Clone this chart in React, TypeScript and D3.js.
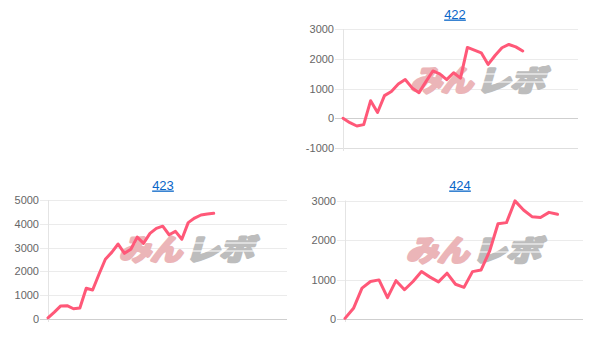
import React from 'react';
import * as d3 from 'd3';

// ---- data ----
const titles = ['422', '423', '424'];

const values422 = [0, -150, -260, -215, 590, 195, 760, 900, 1150, 1300, 1020, 860, 1230, 1590, 1490, 1300, 1530, 1350, 2380, 2290, 2200, 1810, 2110, 2370, 2480, 2400, 2260];
const values423 = [50, 290, 550, 560, 430, 460, 1290, 1220, 1880, 2510, 2800, 3150, 2760, 2930, 3440, 3180, 3600, 3810, 3900, 3540, 3680, 3350, 4050, 4240, 4370, 4410, 4440];
const values424 = [15, 270, 780, 950, 990, 540, 970, 740, 950, 1200, 1060, 940, 1160, 880, 800, 1200, 1240, 1710, 2410, 2440, 2990, 2760, 2590, 2570, 2700, 2650];

const ticks422 = [-1000, 0, 1000, 2000, 3000];
const ticks423 = [0, 1000, 2000, 3000, 4000, 5000];
const ticks424 = [0, 1000, 2000, 3000];

const watermarkParts = ['みん', 'レボ'];

const FONT = '"Liberation Sans", Arial, sans-serif';
const LINE_COLOR = '#ff5878';

type ChartProps = {
  title: string;
  values: number[];
  ticks: number[];
  xMax: number;
  left: number;
  right: number;
  top: number;
  bottom: number;
  titleX: number;
  titleY: number;
  wmX: number;
  wmY: number;
};

function Watermark({ x, y }: { x: number; y: number }) {
  const wmFont = '"Noto Sans CJK JP", sans-serif';
  return (
    <g transform={`translate(${x},${y}) skewX(-16)`} fontFamily={wmFont} fontWeight={700} fontSize={29}>
      <g transform="translate(6,0) scale(1.08,1)">
        <text x={0} y={0} fill="#ebb5b8" stroke="#ebb5b8" strokeWidth={3.2} strokeLinejoin="round">
          {watermarkParts[0]}
        </text>
      </g>
      <g transform="translate(72,0) scale(1.18,1)">
        <text x={0} y={0} fill="#bdbdbd" stroke="#bdbdbd" strokeWidth={3.2} strokeLinejoin="round">
          {watermarkParts[1]}
        </text>
      </g>
      <line x1={76} x2={148} y1={-17} y2={-17} stroke="#fff" strokeWidth={1.2} />
      <line x1={76} x2={148} y1={-9} y2={-9} stroke="#fff" strokeWidth={1.2} />
    </g>
  );
}

function LineChart(p: ChartProps) {
  const x = d3.scaleLinear().domain([0, p.xMax]).range([p.left, p.right]);
  const y = d3
    .scaleLinear()
    .domain([p.ticks[0], p.ticks[p.ticks.length - 1]])
    .range([p.bottom, p.top]);
  const line = d3
    .line<number>()
    .x((_, i) => x(i))
    .y((d) => y(d));
  const path = line(p.values) || '';

  return (
    <g>
      <text
        x={p.titleX}
        y={p.titleY}
        textAnchor="middle"
        fontFamily={FONT}
        fontSize={13}
        fill="#0a66c8"
        textDecoration="underline"
      >
        {p.title}
      </text>
      {p.ticks.map((t) => {
        const yy = Math.round(y(t)) + 0.5;
        const isZero = t === 0;
        const isBottom = t === p.ticks[0];
        return (
          <g key={t}>
            <line
              x1={p.left - 8}
              x2={p.right}
              y1={yy}
              y2={yy}
              stroke={isZero ? '#cfcfcf' : isBottom ? '#dedede' : '#ebebeb'}
              strokeWidth={1}
            />
            <text
              x={p.left - 9}
              y={yy}
              dy="0.35em"
              textAnchor="end"
              fontFamily={FONT}
              fontSize={11}
              fill="#666"
            >
              {t}
            </text>
          </g>
        );
      })}
      <line
        x1={Math.round(p.left) + 0.5}
        x2={Math.round(p.left) + 0.5}
        y1={p.top}
        y2={p.bottom + 3}
        stroke="#e4e4e4"
        strokeWidth={1}
      />
      <Watermark x={p.wmX} y={p.wmY} />
      <path d={path} fill="none" stroke={LINE_COLOR} strokeWidth={3} strokeLinejoin="round" strokeLinecap="round" />
    </g>
  );
}

export default function App() {
  return (
    <svg
      width={606}
      height={344}
      style={{ position: 'absolute', left: 0, top: 0, background: '#fff' }}
    >
      <rect width={606} height={344} fill="#fff" />
      <LineChart
        title={titles[0]}
        values={values422}
        ticks={ticks422}
        xMax={34}
        left={343}
        right={578}
        top={29}
        bottom={148}
        titleX={455}
        titleY={18.5}
        wmX={404}
        wmY={91}
      />
      <LineChart
        title={titles[1]}
        values={values423}
        ticks={ticks423}
        xMax={37.5}
        left={48}
        right={287}
        top={200}
        bottom={319}
        titleX={163}
        titleY={189.5}
        wmX={113}
        wmY={260}
      />
      <LineChart
        title={titles[2]}
        values={values424}
        ticks={ticks424}
        xMax={28}
        left={345}
        right={583}
        top={200.5}
        bottom={319}
        titleX={460}
        titleY={189.5}
        wmX={400}
        wmY={261}
      />
    </svg>
  );
}
